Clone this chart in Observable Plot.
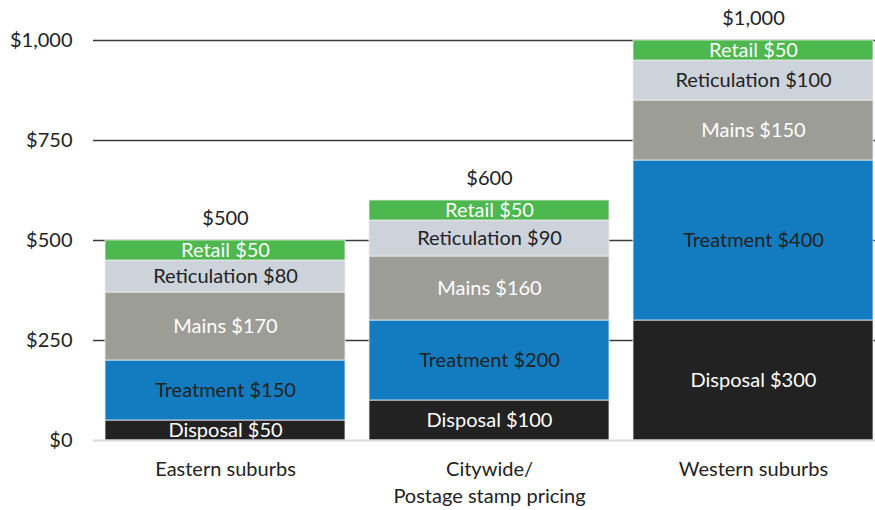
<!DOCTYPE html>
<html>
<head>
<meta charset="utf-8">
<script src="https://cdn.jsdelivr.net/npm/d3@7"></script>
<script src="https://cdn.jsdelivr.net/npm/@observablehq/plot@0.6"></script>
<style>
  html, body { margin: 0; padding: 0; background: #fff; }
  #chart svg { display: block; }
</style>
</head>
<body>
<div id="chart"></div>
<script>
const categories = ["Eastern suburbs", "Citywide/\nPostage stamp pricing", "Western suburbs"];
const components = ["Disposal", "Treatment", "Mains", "Reticulation", "Retail"];
const disposal = [50, 100, 300];
const treatment = [150, 200, 400];
const mains = [170, 160, 150];
const reticulation = [80, 90, 100];
const retail = [50, 50, 50];
const totals = [500, 600, 1000];
const yTicks = [0, 250, 500, 750, 1000];
const colors = ["#222222", "#137cc1", "#9d9d97", "#ccd3da", "#4cb84d"];
const whiteText = ["Disposal", "Mains", "Retail"];

const series = [disposal, treatment, mains, reticulation, retail];
const rows = [];
components.forEach((comp, j) => {
  categories.forEach((cat, i) => {
    rows.push({cat, comp, value: series[j][i]});
  });
});
const totalRows = categories.map((cat, i) => ({cat, total: totals[i]}));
const fmt = d3.format("$,");
const font = "Lato, 'Open Sans', sans-serif";
const fs = 20;

const stackOpts = {x: "cat", y: "value"};
const label = d => `${d.comp} ${fmt(d.value)}`;
const chart = Plot.plot({
  width: 875,
  height: 510,
  marginTop: 40,
  marginBottom: 70,
  marginLeft: 93,
  marginRight: 0,
  style: {fontFamily: font, fontSize: fs + "px", color: "#222"},
  x: {domain: categories, range: [93, 885], paddingInner: 24 / 264, paddingOuter: 12 / 264, label: null},
  y: {domain: [0, 1000], label: null},
  color: {domain: components, range: colors},
  marks: [
    Plot.ruleY(yTicks.filter(d => d > 0), {stroke: "#3a3a3a", strokeWidth: 1.5}),
    Plot.barY(rows, Plot.stackY({...stackOpts, fill: "comp", stroke: "#eeeeee", strokeWidth: 0.8})),
    Plot.ruleY([0], {stroke: "#d9d9d9", strokeWidth: 2}),
    Plot.text(rows, Plot.stackY({...stackOpts, text: d => whiteText.includes(d.comp) ? label(d) : "",
      fill: "white", fontSize: fs})),
    Plot.text(rows, Plot.stackY({...stackOpts, text: d => whiteText.includes(d.comp) ? "" : label(d),
      fill: "#222", fontSize: fs})),
    Plot.text(totalRows, {x: "cat", y: "total", text: d => fmt(d.total), dy: -22, fill: "#222", fontSize: fs}),
    Plot.axisY({ticks: yTicks, tickFormat: fmt, tickSize: 0, tickPadding: 21, fontSize: fs, label: null}),
    Plot.axisX({tickSize: 0, tickPadding: 16, fontSize: fs, label: null, lineHeight: 1.35})
  ]
});
document.getElementById("chart").appendChild(chart);
</script>
</body>
</html>
